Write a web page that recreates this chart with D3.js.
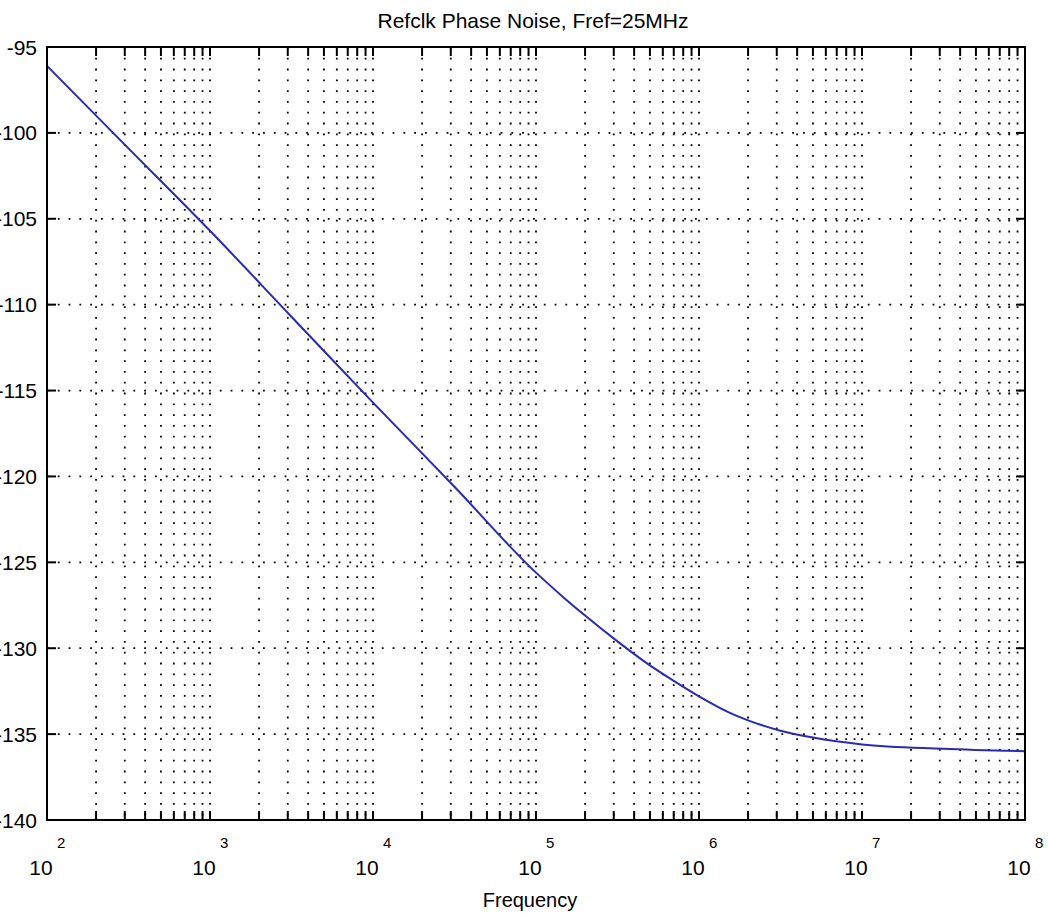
<!DOCTYPE html>
<html>
<head>
<meta charset="utf-8">
<script src="https://cdn.jsdelivr.net/npm/d3@7"></script>
<style>
    body { margin: 0; background: #fff; }
    svg { display: block; font-family: "Liberation Sans", Arial, sans-serif; }
</style>
</head>
<body>
<svg id="chart" width="1048" height="918"></svg>
<script>
// values
var freq = [1e2, 3.16e2, 1e3, 3.16e3, 1e4, 3.16e4, 1e5, 1.5e5, 2e5, 3.16e5, 5e5, 7e5, 1e6, 1.5e6, 2e6, 3.16e6, 5e6, 1e7, 3.16e7, 1e8];
var phaseNoise = [-96.1, -100.9, -105.7, -110.7, -115.7, -120.6, -125.6, -127.1, -128.1, -129.6, -131.0, -131.9, -132.8, -133.7, -134.2, -134.8, -135.2, -135.6, -135.85, -136.0];
var xExponents = [2, 3, 4, 5, 6, 7, 8];
var yTicks = [-95, -100, -105, -110, -115, -120, -125, -130, -135, -140];
var title = "Refclk Phase Noise, Fref=25MHz";
var xLabel = "Frequency";

// plot box (window.top is reserved, so no plain "top")
var plotLeft = 47, plotRight = 1025, plotTop = 47, plotBottom = 820;

var svg = d3.select("#chart");

var x = d3.scaleLog().domain([1e2, 1e8]).range([plotLeft, plotRight]);
var y = d3.scaleLinear().domain([-140, -95]).range([plotBottom, plotTop]);

// minor + major positions for grid and ticks
var xGrid = [];
for (var e = 2; e < 8; e++) {
    for (var m = 1; m < 10; m++) {
        xGrid.push(m * Math.pow(10, e));
    }
}
xGrid.push(1e8);

var grid = svg.append("g")
    .attr("stroke", "#000")
    .attr("stroke-width", 1.8)
    .attr("stroke-dasharray", "1.8 9");

grid.selectAll(".vgrid")
    .data(xGrid.filter(d => d > 1e2 && d < 1e8))
    .enter()
    .append("line")
    .attr("x1", d => x(d))
    .attr("x2", d => x(d))
    .attr("y1", plotTop)
    .attr("y2", plotBottom);

grid.selectAll(".hgrid")
    .data(yTicks.filter(d => d > -140 && d < -95))
    .enter()
    .append("line")
    .attr("x1", plotLeft)
    .attr("x2", plotRight)
    .attr("y1", d => y(d))
    .attr("y2", d => y(d));

// tick marks pointing inward on all sides
var ticks = svg.append("g").attr("stroke", "#000").attr("stroke-width", 2);
var tickLen = 9;

xGrid.forEach(function (d) {
    ticks.append("line").attr("x1", x(d)).attr("x2", x(d)).attr("y1", plotBottom).attr("y2", plotBottom - tickLen);
    ticks.append("line").attr("x1", x(d)).attr("x2", x(d)).attr("y1", plotTop).attr("y2", plotTop + tickLen);
});
yTicks.forEach(function (d) {
    ticks.append("line").attr("x1", plotLeft).attr("x2", plotLeft + tickLen).attr("y1", y(d)).attr("y2", y(d));
    ticks.append("line").attr("x1", plotRight).attr("x2", plotRight - tickLen).attr("y1", y(d)).attr("y2", y(d));
});

// the curve
var line = d3.line()
    .x((d, i) => x(freq[i]))
    .y(d => y(d))
    .curve(d3.curveMonotoneX);

svg.append("path")
    .datum(phaseNoise)
    .attr("fill", "none")
    .attr("stroke", "#2a2ab4")
    .attr("stroke-width", 2)
    .attr("d", line);

// box
svg.append("rect")
    .attr("x", plotLeft)
    .attr("y", plotTop)
    .attr("width", plotRight - plotLeft)
    .attr("height", plotBottom - plotTop)
    .attr("fill", "none")
    .attr("stroke", "#000")
    .attr("stroke-width", 2);

// y labels
svg.selectAll(".ylab")
    .data(yTicks)
    .enter()
    .append("text")
    .attr("x", 37)
    .attr("y", d => y(d))
    .attr("dy", "0.36em")
    .attr("text-anchor", "end")
    .attr("font-size", 21)
    .text(d => d);

// x labels: 10 with exponent
var xl = svg.selectAll(".xlab")
    .data(xExponents)
    .enter()
    .append("g")
    .attr("transform", d => "translate(" + x(Math.pow(10, d)) + ",0)");

xl.append("text")
    .attr("x", -6)
    .attr("y", 875)
    .attr("text-anchor", "middle")
    .attr("font-size", 21)
    .text("10");

xl.append("text")
    .attr("x", 10)
    .attr("y", 848)
    .attr("font-size", 15)
    .text(d => d);

svg.append("text")
    .attr("x", (plotLeft + plotRight) / 2 - 3)
    .attr("y", 28)
    .attr("text-anchor", "middle")
    .attr("font-size", 21)
    .text(title);

svg.append("text")
    .attr("x", (plotLeft + plotRight) / 2 - 6)
    .attr("y", 907)
    .attr("text-anchor", "middle")
    .attr("font-size", 20)
    .text(xLabel);
</script>
</body>
</html>
